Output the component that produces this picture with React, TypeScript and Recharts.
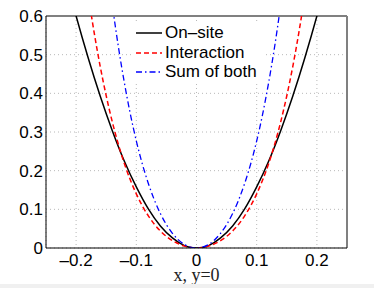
import { LineChart, Line, XAxis, YAxis, CartesianGrid, ReferenceLine } from 'recharts';

const xValues = [-0.24, -0.22, -0.2, -0.18, -0.16, -0.14, -0.12, -0.1, -0.08, -0.06, -0.04, -0.02, 0, 0.02, 0.04, 0.06, 0.08, 0.1, 0.12, 0.14, 0.16, 0.18, 0.2, 0.22, 0.24];
const onSite = [0.839, 0.716, 0.6, 0.492, 0.393, 0.304, 0.225, 0.158, 0.101, 0.057, 0.026, 0.006, 0, 0.006, 0.026, 0.057, 0.101, 0.158, 0.225, 0.304, 0.393, 0.492, 0.6, 0.716, 0.839];
const interaction = [1.571, 1.196, 0.894, 0.656, 0.47, 0.327, 0.219, 0.14, 0.083, 0.044, 0.019, 0.005, 0, 0.005, 0.019, 0.044, 0.083, 0.14, 0.219, 0.327, 0.47, 0.656, 0.894, 1.196, 1.571];
const sumOfBoth = [2.884, 2.214, 1.672, 1.238, 0.897, 0.631, 0.429, 0.277, 0.167, 0.089, 0.038, 0.009, 0, 0.009, 0.038, 0.089, 0.167, 0.277, 0.429, 0.631, 0.897, 1.238, 1.672, 2.214, 2.884];

const xTicks = [-0.2, -0.1, 0, 0.1, 0.2];
const yTicks = [0, 0.1, 0.2, 0.3, 0.4, 0.5, 0.6];

const series = [
  { key: 'onSite', name: 'On\u2013site', color: '#000000', dash: undefined, width: 1.5 },
  { key: 'interaction', name: 'Interaction', color: '#ff0000', dash: '5 3', width: 1.5 },
  { key: 'sum', name: 'Sum of both', color: '#0000ff', dash: '6 3 1.5 3', width: 1.3 },
];

const data = xValues.map((x, i) => ({
  x,
  onSite: onSite[i],
  interaction: interaction[i],
  sum: sumOfBoth[i],
}));

const font = '"Liberation Sans", Arial, sans-serif';

// legend drawn on top of the plot, MATLAB style (white box, no border)
function LegendBox() {
  return (
    <div style={{ position: 'absolute', top: 22, left: 133, background: '#fff', width: 130, height: 62, fontFamily: font, fontSize: 17, color: '#000' }}>
      {series.map((s, i) => (
        <div key={s.key} style={{ position: 'absolute', top: 1 + i * 19.5, left: 0, height: 20, display: 'flex', alignItems: 'center', whiteSpace: 'nowrap' }}>
          <svg width={30} height={20}>
            <line x1={3} x2={29} y1={10} y2={10} stroke={s.color} strokeWidth={s.width} strokeDasharray={s.dash} />
          </svg>
          <span style={{ marginLeft: 2, lineHeight: '20px' }}>{s.name}</span>
        </div>
      ))}
    </div>
  );
}

export default function App() {
  return (
    <div style={{ position: 'absolute', top: 0, left: 0, width: 374, height: 288, background: '#fff' }}>
      <LineChart width={374} height={288} data={data} margin={{ top: 16, right: 27, left: 0, bottom: 0 }}>
        <CartesianGrid stroke="#b8b8b8" strokeDasharray="1 3" />
        <XAxis
          dataKey="x"
          type="number"
          domain={[-0.25, 0.25]}
          ticks={xTicks}
          interval={0}
          height={40}
          stroke="#000"
          tickLine={false}
          tickSize={0}
          tickMargin={6}
          tick={{ fill: '#000', fontSize: 17, fontFamily: font }}
          tickFormatter={(v: number) => (v === 0 ? '0' : v.toFixed(1).replace('-', '\u2013'))}
          allowDataOverflow
          label={{ value: 'x, y=0', position: 'insideBottom', offset: 7, style: { fontFamily: '"Liberation Serif", "Times New Roman", serif', fontSize: 18, fill: '#222' } }}
        />
        <YAxis
          type="number"
          domain={[0, 0.6]}
          ticks={yTicks}
          interval={0}
          width={46}
          stroke="#000"
          tickLine={false}
          tickSize={0}
          tickMargin={3}
          tick={{ fill: '#000', fontSize: 17, fontFamily: font }}
          tickFormatter={(v: number) => (v === 0 ? '0' : v.toFixed(1))}
          allowDataOverflow
        />
        <ReferenceLine y={0.6} stroke="#808080" strokeWidth={2} />
        <ReferenceLine x={0.25} stroke="#808080" strokeWidth={2} />
        {series.map((s) => (
          <Line
            key={s.key}
            type="natural"
            dataKey={s.key}
            name={s.name}
            stroke={s.color}
            strokeWidth={s.width}
            strokeDasharray={s.dash}
            dot={false}
            isAnimationActive={false}
          />
        ))}
      </LineChart>
      <LegendBox />
      <div style={{ position: 'absolute', left: 0, top: 284, width: 374, height: 4, background: '#f0f0f0' }} />
    </div>
  );
}
